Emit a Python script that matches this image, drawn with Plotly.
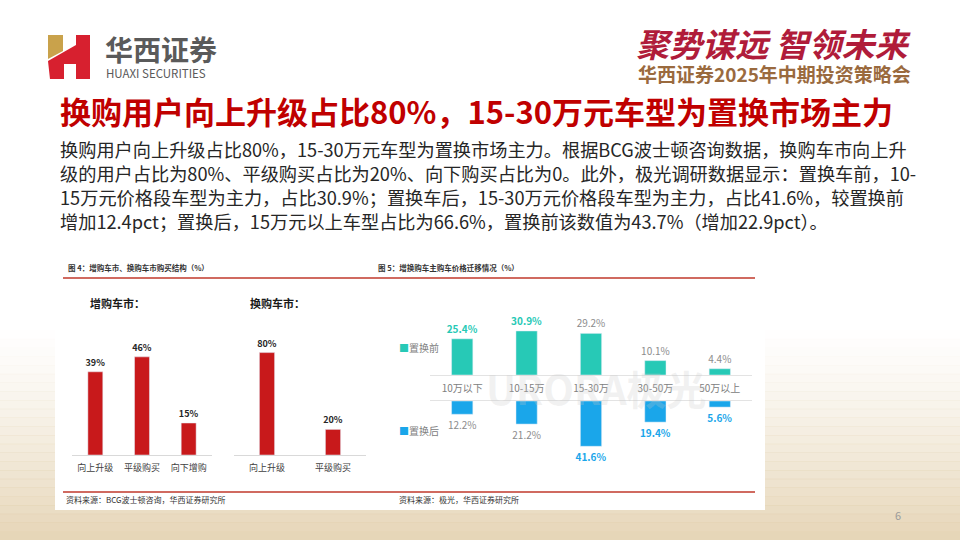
import plotly.graph_objects as go

W, H = 960, 540

# ---------------- data ----------------
inc_cats = ["向上升级", "平级购买", "向下增购"]
inc_vals = [39, 46, 15]
rep_cats = ["向上升级", "平级购买"]
rep_vals = [80, 20]
price_cats = ["10万以下", "10-15万", "15-30万", "30-50万", "50万以上"]
before_vals = [25.4, 30.9, 29.2, 10.1, 4.4]
after_vals = [12.2, 21.2, 41.6, 19.4, 5.6]
before_bold = [True, True, False, False, False]
after_bold = [False, False, True, True, True]

title_text = "换购用户向上升级占比80%，15-30万元车型为置换市场主力"
body_lines = [
    "换购用户向上升级占比80%，15-30万元车型为置换市场主力。根据BCG波士顿咨询数据，换购车市向上升",
    "级的用户占比为80%、平级购买占比为20%、向下购买占比为0。此外，极光调研数据显示：置换车前，10-",
    "15万元价格段车型为主力，占比30.9%；置换车后，15-30万元价格段车型为主力，占比41.6%，较置换前",
    "增加12.4pct；置换后，15万元以上车型占比为66.6%，置换前该数值为43.7%（增加22.9pct）。",
]

FONT = "Noto Sans CJK SC"
RED_BAR = "#C8191B"
TEAL = "#27C9B6"
BLUE = "#1AA6EA"


def px(x):
    return x / W


def py(y):
    return 1 - y / H


def path(points):
    s = "M " + " L ".join(f"{px(x):.5f},{py(y):.5f}" for x, y in points) + " Z"
    return s


fig = go.Figure()

# chart 1 left
fig.add_trace(go.Bar(
    x=inc_cats, y=inc_vals, xaxis="x", yaxis="y", width=0.32,
    marker=dict(color=RED_BAR), text=[f"<b>{v}%</b>" for v in inc_vals],
    textposition="outside", constraintext="none", cliponaxis=False,
    textfont=dict(size=9, color="#262626", family=FONT), hoverinfo="skip"))
# chart 1 right
fig.add_trace(go.Bar(
    x=rep_cats, y=rep_vals, xaxis="x2", yaxis="y2", width=0.23,
    marker=dict(color=RED_BAR), text=[f"<b>{v}%</b>" for v in rep_vals],
    textposition="outside", constraintext="none", cliponaxis=False,
    textfont=dict(size=9, color="#262626", family=FONT), hoverinfo="skip"))
# chart 2 top
fig.add_trace(go.Bar(
    x=price_cats, y=before_vals, xaxis="x3", yaxis="y3", width=0.33,
    marker=dict(color=TEAL),
    text=[(f"<b>{v}%</b>" if b else f"{v}%") for v, b in zip(before_vals, before_bold)],
    textposition="outside", constraintext="none", cliponaxis=False,
    textfont=dict(size=10, family=FONT,
                  color=[TEAL if b else "#8C8C8C" for b in before_bold]),
    hoverinfo="skip"))
# chart 2 bottom
fig.add_trace(go.Bar(
    x=price_cats, y=after_vals, xaxis="x4", yaxis="y4", width=0.33,
    marker=dict(color=BLUE),
    text=[(f"<b>{v}%</b>" if b else f"{v}%") for v, b in zip(after_vals, after_bold)],
    textposition="outside", constraintext="none", cliponaxis=False,
    textfont=dict(size=10, family=FONT,
                  color=[BLUE if b else "#8C8C8C" for b in after_bold]),
    hoverinfo="skip"))

cat_font1 = dict(size=9, color="#404040", family=FONT)
fig.update_layout(
    xaxis=dict(domain=[px(72), px(212)], anchor="y", showline=True, linecolor="#D9D9D9",
               ticks="", tickfont=cat_font1, ticklabelstandoff=4, showgrid=False),
    yaxis=dict(domain=[py(455), py(327)], range=[0, 60], visible=False),
    xaxis2=dict(domain=[px(234), px(366)], anchor="y2", showline=True, linecolor="#D9D9D9",
                ticks="", tickfont=cat_font1, ticklabelstandoff=4, showgrid=False),
    yaxis2=dict(domain=[py(455), py(327)], range=[0, 100], visible=False),
    xaxis3=dict(domain=[px(430), px(752)], anchor="y3", showline=True, linecolor="#E3E3E3",
                ticks="", tickfont=dict(size=10, color="#808080", family=FONT),
                ticklabelstandoff=4, showgrid=False),
    yaxis3=dict(domain=[py(375), py(318)], range=[0, 40], visible=False),
    xaxis4=dict(domain=[px(430), px(752)], anchor="y4", side="top", showline=True,
                linecolor="#E3E3E3", ticks="", showticklabels=False, showgrid=False),
    yaxis4=dict(domain=[py(450), py(401)], range=[45, 0], visible=False),
)

shapes = []
# background gradient at bottom
n = 24
for i in range(n):
    y0 = 330 + i * (210 / n)
    y1 = y0 + 210 / n + 0.5
    a = ((i + 1) / n) ** 1.3 * 0.85
    shapes.append(dict(type="rect", xref="paper", yref="paper", x0=0, x1=1,
                       y0=py(y1), y1=py(y0), fillcolor=f"rgba(226,207,172,{a:.3f})",
                       line=dict(width=0), layer="below"))
# white panel
shapes.append(dict(type="rect", xref="paper", yref="paper", x0=px(55), x1=px(765),
                   y0=py(510), y1=py(252), fillcolor="white", line=dict(width=0),
                   layer="below"))
# red rules
for yy in (278, 492):
    shapes.append(dict(type="line", xref="paper", yref="paper", x0=px(63), x1=px(755),
                       y0=py(yy), y1=py(yy), line=dict(color="#C0392B", width=1.5)))
# logo
shapes.append(dict(type="path", xref="paper", yref="paper",
                   path=path([(48, 35), (63, 35), (63, 51), (48, 59)]),
                   fillcolor="#C9A24B", line=dict(width=0)))
shapes.append(dict(type="path", xref="paper", yref="paper",
                   path=path([(48, 61), (76, 45), (76, 35), (90, 35), (90, 79), (76, 79),
                              (76, 64), (64, 64), (64, 79), (50, 79)]),
                   fillcolor="#D7202F", line=dict(width=0)))

ann = []


def T(x, y, text, size, color="#262626", xanchor="left", yanchor="middle", **kw):
    ann.append(dict(x=px(x), y=py(y), xref="paper", yref="paper", text=text,
                    showarrow=False, xanchor=xanchor, yanchor=yanchor,
                    font=dict(size=size, color=color, family=kw.pop("family", FONT)), **kw))


# header
T(103, 49, "<b>华西证券</b>", 28, "#5A5A5A")
T(104, 73, "HUAXI SECURITIES", 11.5, "#5A5A5A")
T(913, 43, "<b><i>聚势谋远 智领未来</i></b>", 33, "#B01C3A", xanchor="right")
T(913, 73, "<b>华西证券2025年中期投资策略会</b>", 19, "#9A6A3E", xanchor="right")
# title
T(58, 110, f"<b>{title_text}</b>", 31, "#C00000")
# body
for i, line in enumerate(body_lines):
    T(58, 149 + i * 24, line, 18.2, "#262626")
# figure captions
T(66, 268, "<b>图 4：增购车市、换购车市购买结构（%）</b>", 7.5, "#333333")
T(376, 268, "<b>图 5：增换购车主购车价格迁移情况（%）</b>", 7.5, "#333333")
T(88, 303, "<b>增购车市：</b>", 11, "#1A1A1A")
T(248, 303, "<b>换购车市：</b>", 11, "#1A1A1A")
# watermark
T(596, 388, "<b>URORA极光</b>", 40, "rgba(200,200,200,0.25)", xanchor="center")
# legend
T(397, 347, f"<span style='color:{TEAL}'>■</span>置换前", 10, "#808080")
T(397, 430, f"<span style='color:{BLUE}'>■</span>置换后", 10, "#808080")
# sources
T(64, 499, "资料来源：BCG波士顿咨询，华西证券研究所", 8, "#333333")
T(397, 499, "资料来源：极光，华西证券研究所", 8, "#333333")
# page number
T(898, 515, "6", 11, "#9A9A9A", xanchor="center")

fig.update_layout(
    width=W, height=H, margin=dict(l=0, r=0, t=0, b=0),
    paper_bgcolor="white", plot_bgcolor="rgba(0,0,0,0)",
    showlegend=False, shapes=shapes, annotations=ann,
    font=dict(family=FONT),
)

fig.write_html("out.html", config=dict(displayModeBar=False),
               post_script="document.body.style.margin='0';document.body.style.overflow='hidden';")
